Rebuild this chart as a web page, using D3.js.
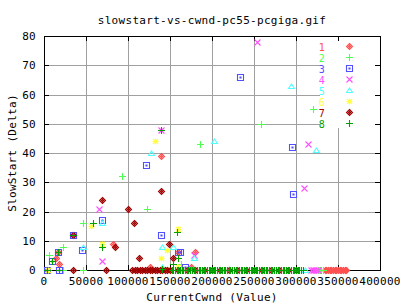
<!DOCTYPE html>
<html>
<head>
<meta charset="utf-8">
<script src="https://cdn.jsdelivr.net/npm/d3@7"></script>
<style>
  body { margin: 0; background: #fff; }
  text { font-family: "DejaVu Sans Mono", monospace; font-size: 11px; letter-spacing: 0.3px; fill: #000; }
</style>
</head>
<body>
<svg width="400" height="304"></svg>
<script>
// series values [CurrentCwnd, SlowStart]
var s1 = [[35000,12],[16700,6],[14300,4],[18000,2],[3600,0],[82000,9],[139000,39],[160000,6],[180000,6],[126000,1],[175000,1],
  [334000,0],[336000,0],[338000,0],[340000,0],[342000,0],[344000,0],[346000,0],[348000,0],[350000,0],[352000,0],
  [354000,0],[356000,0],[358000,0],[360000,0]];
var s2 = [[320000,55],[258000,50],[185700,43],[93000,32],[122500,21],[46500,16],[22600,8],[6000,5],[35000,12],[163000,2],
  [3600,0],[22600,0],[46500,0],[326000,0],[328000,0],[330000,0],[332000,0]];
var s3 = [[233000,66],[295000,42],[296000,26],[121000,36],[69000,17],[139000,12],[45000,7],[160000,6],[162000,6],[168000,1],
  [35000,12],[16700,6],[9500,3],[3600,0],[17800,0]];
var s4 = [[253600,78],[314000,43],[309500,28],[65500,21],[69000,3],[178000,5],[139300,48],
  [318000,0],[320000,0],[322000,0],[324000,0],[326000,0]];
var s5 = [[294000,63],[324000,41],[202000,44],[127000,40],[69000,16],[46500,8],[140000,8],[153000,8],[178000,4],[141000,1],[311000,0]];
var s6 = [[132000,44],[56000,15],[69000,9],[159000,14],[146000,7],[139000,4],[146000,0.5],[5000,0],[160000,1]];
var s7 = [[139000,27],[69000,24],[100000,21],[107000,16],[85000,8],[149000,9],[113000,4],[154000,4],[35000,12],
  [35000,0],[74000,0],[105000,0],[108000,0],[111000,0],[114000,0],[117000,0],[120000,0],[123000,0],[126000,0],[129000,0],
  [132000,0],[135000,0],[138000,0],[141000,0],[144000,0],[147000,0],[150000,0],[160000,0],[170000,0],[180000,0],[190000,0],
  [200000,0],[210000,0],[220000,0],[230000,0],[240000,0],[250000,0],[260000,0],[270000,0],[280000,0],[290000,0],[300000,0]];
var s8 = [[139300,48],[58500,16],[69000,8],[158000,13],[160000,4],[154000,2],[140000,0.5],[35000,12],[16700,6],[9500,3],
  [3600,0],[17800,0],
  [152000,0],[154000,0],[156000,0],[158000,0],[160000,0],[162000,0],[164000,0],[166000,0],[168000,0],[170000,0],
  [172000,0],[174000,0],[176000,0],[178000,0],[180000,0],[182000,0],[184000,0],[186000,0],[188000,0],[190000,0],
  [192000,0],[194000,0],[196000,0],[198000,0],[200000,0],[202000,0],[204000,0],[206000,0],[208000,0],[210000,0],
  [212000,0],[214000,0],[216000,0],[218000,0],[220000,0],[222000,0],[224000,0],[226000,0],[228000,0],[230000,0],
  [232000,0],[234000,0],[236000,0],[238000,0],[240000,0],[242000,0],[244000,0],[246000,0],[248000,0],[250000,0],
  [252000,0],[254000,0],[256000,0],[258000,0],[260000,0],[262000,0],[264000,0],[266000,0],[268000,0],[270000,0],
  [272000,0],[274000,0],[276000,0],[278000,0],[280000,0],[282000,0],[284000,0],[286000,0],[288000,0],[290000,0],
  [292000,0],[294000,0],[296000,0],[298000,0],[300000,0],[302000,0],[304000,0],[306000,0],[308000,0]];

var seriesNames = ["1", "2", "3", "4", "5", "6", "7", "8"];
var seriesData = [s1, s2, s3, s4, s5, s6, s7, s8];
var colors = ["#ff5050", "#50ff50", "#5050ff", "#ff50ff", "#50ffff", "#ffff40", "#a00000", "#00a000"];
var symbols = ["diamond", "plus", "box", "cross", "triangle", "star", "diamond", "plus"];

var xTicks = [0, 50000, 100000, 150000, 200000, 250000, 300000, 350000, 400000];
var yTicks = [0, 10, 20, 30, 40, 50, 60, 70, 80];

var svg = d3.select("svg"),
    margin = {top: 36, right: 20, bottom: 34, left: 44},
    width = 400 - margin.left - margin.right,
    height = 304 - margin.top - margin.bottom;

var x = d3.scaleLinear().domain([0, 400000]).range([margin.left, margin.left + width]);
var y = d3.scaleLinear().domain([0, 80]).range([margin.top + height, margin.top]);

var grid = svg.append("g").attr("stroke", "#a0a0a0").attr("shape-rendering", "crispEdges");
grid.selectAll("line.v").data(xTicks.slice(1, -1)).enter().append("line")
  .attr("x1", function(d) { return Math.round(x(d)) + 0.5; })
  .attr("x2", function(d) { return Math.round(x(d)) + 0.5; })
  .attr("y1", y(0)).attr("y2", y(80));
grid.selectAll("line.h").data(yTicks.slice(1, -1)).enter().append("line")
  .attr("y1", function(d) { return Math.round(y(d)) + 0.5; })
  .attr("y2", function(d) { return Math.round(y(d)) + 0.5; })
  .attr("x1", x(0)).attr("x2", x(400000));

// key area hides grid
svg.append("rect").attr("x", 320).attr("y", margin.top).attr("width", x(400000) - 320).attr("height", 92).attr("fill", "#fff");

// border + ticks, pointing inwards; drawn under the points like gnuplot does
svg.append("rect").attr("x", x(0) + 0.5).attr("y", y(80) + 0.5).attr("width", width).attr("height", height)
  .attr("fill", "none").attr("stroke", "#000").attr("shape-rendering", "crispEdges");
var tk = svg.append("g").attr("stroke", "#000").attr("shape-rendering", "crispEdges");
xTicks.forEach(function(d) {
  var px = Math.round(x(d)) + 0.5;
  tk.append("line").attr("x1", px).attr("x2", px).attr("y1", y(0)).attr("y2", y(0) - 5);
  tk.append("line").attr("x1", px).attr("x2", px).attr("y1", y(80)).attr("y2", y(80) + 5);
});
yTicks.forEach(function(d) {
  var py = Math.round(y(d)) + 0.5;
  tk.append("line").attr("y1", py).attr("y2", py).attr("x1", x(0)).attr("x2", x(0) + 5);
  tk.append("line").attr("y1", py).attr("y2", py).attr("x1", x(400000)).attr("x2", x(400000) - 5);
});

svg.append("g").selectAll("text").data(xTicks).enter().append("text")
  .attr("x", function(d) { return x(d); }).attr("y", 285).attr("text-anchor", "middle")
  .text(function(d) { return d; });
svg.append("g").selectAll("text").data(yTicks).enter().append("text")
  .attr("x", 36).attr("y", function(d) { return y(d) + 4; }).attr("text-anchor", "end")
  .text(function(d) { return d; });

function symbolPath(type) {
  switch (type) {
    case "diamond": return "M0,-3L3,0L0,3L-3,0Z M0,-1L1,0L0,1L-1,0Z";
    case "plus": return "M-3.5,0H3.5M0,-3.5V3.5";
    case "box": return "M-3,-3H3V3H-3Z M-0.5,-0.5H0.5V0.5H-0.5Z";
    case "cross": return "M-3,-3L3,3M-3,3L3,-3";
    case "triangle": return "M0,-2.5L3,2L-3,2Z";
    case "star": return "M-3,0H3M0,-3V3M-2.5,-2.5L2.5,2.5M-2.5,2.5L2.5,-2.5";
  }
}

var pts = svg.append("g");
seriesData.forEach(function(data, i) {
  pts.append("g").attr("stroke", colors[i]).attr("fill", "none").attr("stroke-width", 1.1)
    .selectAll("path").data(data).enter().append("path")
    .attr("transform", function(d) { return "translate(" + (Math.round(x(d[0])) + 0.5) + "," + (Math.round(y(d[1])) + 0.5) + ")"; })
    .attr("d", symbolPath(symbols[i]));
});

// key
var key = svg.append("g");
seriesNames.forEach(function(n, i) {
  var ky = 46.5 + i * 11;
  key.append("text").attr("x", 325).attr("y", ky + 4).attr("text-anchor", "end")
    .style("fill", colors[i]).style("font-size", "10px").text(n);
  key.append("path").attr("transform", "translate(349.5," + ky + ")").attr("d", symbolPath(symbols[i]))
    .attr("stroke", colors[i]).attr("fill", "none").attr("stroke-width", 1.1);
});

svg.append("text").attr("x", 212).attr("y", 24).attr("text-anchor", "middle").text("slowstart-vs-cwnd-pc55-pcgiga.gif");
svg.append("text").attr("x", 212).attr("y", 301).attr("text-anchor", "middle").text("CurrentCwnd (Value)");
svg.append("text").attr("transform", "translate(16,153) rotate(-90)").attr("text-anchor", "middle").text("SlowStart (Delta)");
</script>
</body>
</html>
